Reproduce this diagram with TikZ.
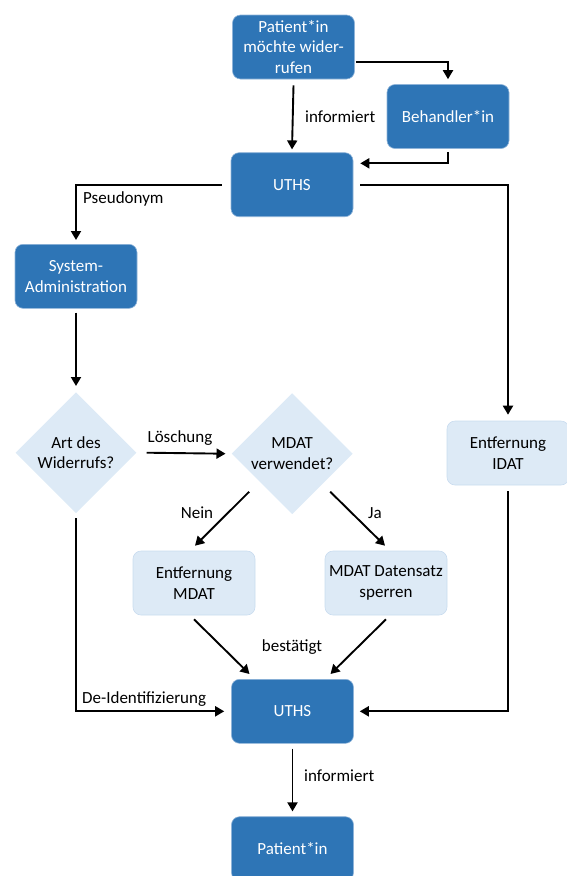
\documentclass[tikz,border=0pt]{standalone}
\usepackage{fontspec}
\setmainfont{Carlito}
\usetikzlibrary{shapes.geometric,arrows.meta}
\definecolor{darkbox}{HTML}{2E75B6}
\definecolor{darkedge}{HTML}{8FB4D9}
\definecolor{lightbox}{HTML}{DDEAF6}
\definecolor{lightedge}{HTML}{C9DCEF}
\tikzset{
  dbox/.style={rectangle, rounded corners=8pt, fill=darkbox, draw=darkedge, line width=0.6pt,
    minimum width=122pt, minimum height=64pt, inner sep=0pt, text=white, align=center},
  lbox/.style={rectangle, rounded corners=8pt, fill=lightbox, draw=lightedge, line width=0.6pt,
    minimum width=122pt, minimum height=64pt, inner sep=0pt, text=black, align=center},
  dia/.style={diamond, aspect=1, fill=lightbox, draw=none, minimum width=121pt, minimum height=121pt,
    inner sep=0pt, align=center},
  conn/.style={line width=1.9pt, -{Triangle[length=9pt,width=10pt]}},
  lbl/.style={font=\fontsize{17}{20.5}\selectfont, inner sep=0pt}
}
\begin{document}
\begin{tikzpicture}[x=1pt,y=-1pt, font=\fontsize{17}{20.5}\selectfont]
\useasboundingbox (0,0) rectangle (566,876);
% nodes
\node[dbox] (pat) at (293.5,47) {Patient*in\\möchte wider-\\rufen};
\node[dbox] (beh) at (448,116.5) {Behandler*in};
\node[dbox] (uths1) at (292,184.7) {UTHS};
\node[dbox] (sys) at (76,276.3) {System-\\Administration};
\node[dia] (d1) at (76,452.7) {Art des\\Widerrufs?};
\node[dia] (d2) at (292.2,453.7) {MDAT\\verwendet?};
\node[lbox] (idat) at (508,453) {Entfernung\\IDAT};
\node[lbox] (rm) at (194,583) {Entfernung\\MDAT};
\node[lbox] (sp) at (386,583) {MDAT Datensatz\\sperren};
\node[dbox] (uths2) at (292.5,711.3) {UTHS};
\node[dbox] (pat2) at (292.5,848.7) {Patient*in};
% connectors
\draw[conn] ([yshift=-6pt]pat.south) -- ([yshift=3pt]uths1.north);
\draw[conn] ([shift={(1,15)}]pat.east) -| ([yshift=5pt]beh.north);
\draw[conn] ([yshift=-3pt]beh.south) |- ([shift={(7,-21.4)}]uths1.east);
\draw[conn] ([xshift=-9pt]uths1.west) -| ([yshift=4pt]sys.north);
\draw[conn] ([xshift=7pt]uths1.east) -| ([yshift=6pt]idat.north);
\draw[conn] ([yshift=-4pt]sys.south) -- ([yshift=6pt]d1.north);
\draw[conn] ([xshift=10pt]d1.east) -- ([xshift=-6pt]d2.west);
\draw[conn] ([shift={(-43,38)}]d2.center) -- ([shift={(1,-5)}]rm.north);
\draw[conn] ([shift={(38,38)}]d2.center) -- ([shift={(-1,-5)}]sp.north);
\draw[conn] ([yshift=-4pt]rm.south) -- ([shift={(-43,-5)}]uths2.north);
\draw[conn] ([yshift=-4pt]sp.south) -- ([shift={(38,-5)}]uths2.north);
\draw[conn] ([yshift=-6pt]idat.south) |- ([xshift=6pt]uths2.east);
\draw[conn] ([yshift=-5pt]d1.south) |- ([xshift=-7pt]uths2.west);
\draw[conn] ([yshift=-5pt]uths2.south) -- ([yshift=5pt]pat2.north);
% labels
\node[lbl, anchor=west] (l1) at (305,117) {informiert};
\node[lbl, anchor=west] (l2) at (83,199) {Pseudonym};
\node[lbl] (l3) at (180,438) {Löschung};
\node[lbl] (l4) at (197,513) {Nein};
\node[lbl] (l5) at (375,513) {Ja};
\node[lbl] (l6) at (292,647) {bestätigt};
\node[lbl, anchor=west] (l7) at (82,699) {De-Identifizierung};
\node[lbl, anchor=west] (l8) at (304,776) {informiert};
\end{tikzpicture}
\end{document}
